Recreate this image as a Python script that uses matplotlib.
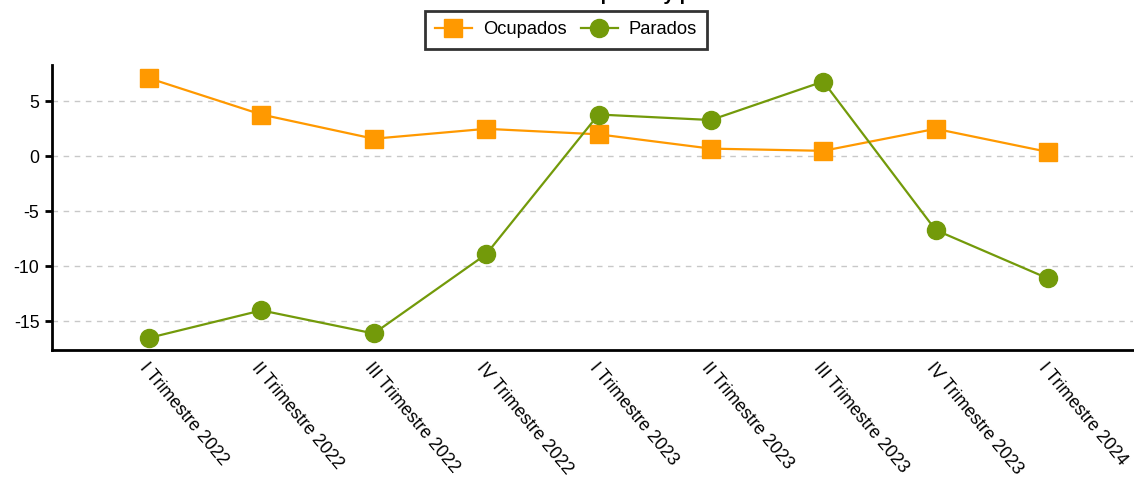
import matplotlib.pyplot as plt
import numpy as np

plt.rcParams["font.family"] = ["Liberation Sans", "DejaVu Sans"]
plt.rcParams["axes.unicode_minus"] = False

trimestres = [
    "I Trimestre 2022", "II Trimestre 2022", "III Trimestre 2022", "IV Trimestre 2022",
    "I Trimestre 2023", "II Trimestre 2023", "III Trimestre 2023", "IV Trimestre 2023",
    "I Trimestre 2024",
]
ocupados = [7.1, 3.8, 1.6, 2.5, 2.0, 0.7, 0.5, 2.5, 0.4]
parados = [-16.5, -14.0, -16.1, -8.9, 3.8, 3.3, 6.8, -6.7, -11.1]

titulo = "Variación interanual de ocupados y parados"

fig = plt.figure(figsize=(11.34, 4.87), dpi=100)
ax = fig.add_axes([52 / 1134, 1 - 350 / 487, (1133 - 52) / 1134, (350 - 65) / 487])

x = np.arange(len(trimestres))
ax.plot(x, ocupados, color="#ff9900", marker="s", markersize=13, linewidth=1.6,
        label="Ocupados", zorder=3)
ax.plot(x, parados, color="#739a0a", marker="o", markersize=13, linewidth=1.6,
        label="Parados", zorder=3)

ax.set_xlim(-0.863, len(trimestres) - 1 + 0.756)
ax.set_ylim(-17.6, 8.3)
ax.set_yticks([-15, -10, -5, 0, 5])
ax.yaxis.grid(True, color="#c8c8c8", linestyle=(0, (4, 4)), linewidth=1)
ax.set_axisbelow(True)

ax.set_xticks(x)
ax.set_xticklabels(trimestres, rotation=-50, ha="left", va="top",
                   rotation_mode="anchor", fontsize=12.8)
ax.tick_params(axis="x", length=0, pad=7)
ax.tick_params(axis="y", length=5, width=2, labelsize=12.8, pad=4)

for side in ["top", "right"]:
    ax.spines[side].set_visible(False)
for side in ["left", "bottom"]:
    ax.spines[side].set_linewidth(2)
    ax.spines[side].set_color("black")

leg = fig.legend(loc="center", bbox_to_anchor=(566 / 1134, 1 - 30 / 487), ncol=2,
                 fontsize=13.2, frameon=True, fancybox=False, edgecolor="black",
                 handlelength=2.0, handletextpad=0.6, columnspacing=0.8,
                 borderpad=0.55, borderaxespad=0, markerscale=1.0)
leg.get_frame().set_linewidth(2)

fig.text(0.486, 1.0, titulo, ha="center", va="baseline", fontsize=14, fontweight="bold")

fig.savefig("out.png", dpi=100)
